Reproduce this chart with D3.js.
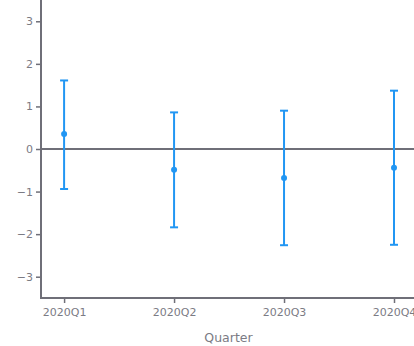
<!DOCTYPE html>
<html>
<head>
<meta charset="utf-8">
<script src="https://cdn.jsdelivr.net/npm/d3@7"></script>
<style>
  body { margin: 0; background: #fff; }
  svg { display: block; }
  .tick text { font-family: "DejaVu Sans", Verdana, sans-serif; }
</style>
</head>
<body>
<div id="chart"></div>
<script>
// Quarter categories, point estimates and error-bar bounds
const quarters = ["2020Q1", "2020Q2", "2020Q3", "2020Q4"];
const means = [0.35, -0.49, -0.68, -0.44];
const upper = [1.61, 0.86, 0.90, 1.37];
const lower = [-0.94, -1.84, -2.26, -2.25];
const yTicks = [-3, -2, -1, 0, 1, 2, 3];

const width = 414, height = 346;
const margin = { top: 0, right: -2, bottom: 48, left: 41 };
const axisColor = "#6f6f78";
const textColor = "#7b7b84";
const barColor = "#2196f3";

const svg = d3.select("#chart").append("svg")
  .attr("width", width)
  .attr("height", height);

const innerW = width - margin.left - margin.right;
const innerH = height - margin.top - margin.bottom;

const g = svg.append("g")
  .attr("transform", `translate(${margin.left},${margin.top})`);

// categorical axis as index positions, padded like the original
const xScale = d3.scaleLinear()
  .domain([-0.21, quarters.length - 1 + 0.2])
  .range([0, innerW]);

const yScale = d3.scaleLinear()
  .domain([-3.5, 3.5])
  .range([innerH, 0]);

// zero line
g.append("line")
  .attr("x1", 0)
  .attr("x2", innerW)
  .attr("y1", yScale(0))
  .attr("y2", yScale(0))
  .attr("stroke", axisColor)
  .attr("stroke-width", 2);

// y axis
const yAxis = g.append("g")
  .call(d3.axisLeft(yScale).tickValues(yTicks).tickSize(5).tickPadding(3)
    .tickFormat(d => d < 0 ? "\u2212" + Math.abs(d) : d));
yAxis.select(".domain").remove();
yAxis.selectAll(".tick line").attr("stroke", axisColor).attr("stroke-width", 1.5);
yAxis.selectAll(".tick text").attr("fill", textColor).style("font-size", "11px");
g.append("line")
  .attr("x1", 0).attr("x2", 0)
  .attr("y1", 0).attr("y2", innerH + 1)
  .attr("stroke", axisColor).attr("stroke-width", 2);

// x axis
const xAxis = g.append("g")
  .attr("transform", `translate(0,${innerH})`)
  .call(d3.axisBottom(xScale).tickValues(d3.range(quarters.length))
    .tickFormat(i => quarters[i]).tickSize(5).tickPadding(5));
xAxis.select(".domain").remove();
xAxis.selectAll(".tick line").attr("stroke", axisColor).attr("stroke-width", 1.5);
xAxis.selectAll(".tick text").attr("fill", textColor).style("font-size", "11px");
g.append("line")
  .attr("x1", -1).attr("x2", innerW)
  .attr("y1", innerH).attr("y2", innerH)
  .attr("stroke", axisColor).attr("stroke-width", 2);

// x axis title
svg.append("text")
  .attr("x", margin.left + innerW / 2)
  .attr("y", 342)
  .attr("text-anchor", "middle")
  .attr("fill", textColor)
  .style("font-family", "'DejaVu Sans', Verdana, sans-serif")
  .style("font-size", "12.5px")
  .text("Quarter");

// error bars
const capHalf = 4;
const bars = g.append("g");
quarters.forEach((q, i) => {
  const x = xScale(i);
  bars.append("line")
    .attr("x1", x).attr("x2", x)
    .attr("y1", yScale(upper[i])).attr("y2", yScale(lower[i]))
    .attr("stroke", barColor).attr("stroke-width", 2);
  [upper[i], lower[i]].forEach(v => {
    bars.append("line")
      .attr("x1", x - capHalf).attr("x2", x + capHalf)
      .attr("y1", yScale(v)).attr("y2", yScale(v))
      .attr("stroke", barColor).attr("stroke-width", 2);
  });
  bars.append("circle")
    .attr("cx", x)
    .attr("cy", yScale(means[i]))
    .attr("r", 3)
    .attr("fill", barColor);
});
</script>
</body>
</html>
